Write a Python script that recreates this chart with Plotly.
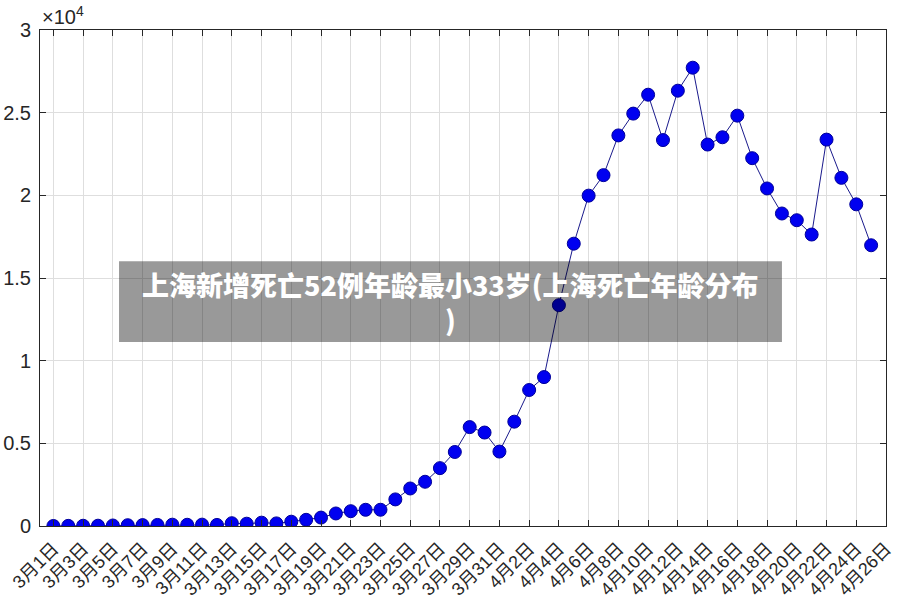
import plotly.graph_objects as go
import pandas as pd

# Daily new cases (confirmed + asymptomatic), 3月1日 .. 4月25日
dates = pd.date_range("2022-03-01", "2022-04-25", freq="D")
cases = [2, 8, 16, 19, 31, 48, 54, 65, 80, 75, 83, 65, 169, 139, 202, 158,
         260, 374, 509, 758, 896, 981, 983, 1609, 2269, 2676, 3500, 4477, 5982, 5653,
         4502, 6311, 8226, 9006, 13354, 17077, 19982, 21222, 23624, 24943, 26087, 23342,
         26330, 27719, 23072, 23513, 24820, 22248, 20416, 18901, 18495, 17629, 23370,
         21058, 19455, 16980]

tick_dates = pd.date_range("2022-03-01", "2022-04-26", freq="2D")
tick_text = [f"{d.month}月{d.day}日" for d in tick_dates]
y_ticks = [0, 5000, 10000, 15000, 20000, 25000, 30000]
y_text = ["0", "0.5", "1", "1.5", "2", "2.5", "3"]

title_text = "上海新增死亡52例年龄最小33岁(上海死亡年龄分布<br>)"

fig = go.Figure()
fig.add_trace(go.Scatter(
    x=dates, y=cases, mode="lines+markers",
    line=dict(color="#1a1a8c", width=1),
    marker=dict(color="#0000f0", size=13, line=dict(color="#00009a", width=1)),
    showlegend=False,
))

axis_common = dict(
    showline=True, linecolor="#262626", linewidth=1, mirror="ticks",
    ticks="inside", ticklen=6, tickcolor="#262626",
    showgrid=True, gridcolor="#dedede", gridwidth=1, zeroline=False,
    automargin=False,
)

fig.update_layout(
    width=902, height=604,
    margin=dict(l=40, r=16, t=30, b=78),
    paper_bgcolor="white", plot_bgcolor="white",
    font=dict(family="Liberation Sans, Arial, Noto Sans CJK SC", size=18, color="#262626"),
    xaxis=dict(
        range=[pd.Timestamp("2022-02-28 02:24"), pd.Timestamp("2022-04-26")],
        tickvals=tick_dates, ticktext=tick_text, tickangle=-45,
        tickfont=dict(size=18, family="Liberation Sans, Noto Sans CJK SC"),
        ticklabelstandoff=4,
        **axis_common,
    ),
    yaxis=dict(
        range=[0, 30000], tickvals=y_ticks, ticktext=y_text,
        tickfont=dict(size=20),
        ticklabelstandoff=4,
        **axis_common,
    ),
    shapes=[dict(
        type="rect", xref="paper", yref="paper",
        x0=0.0934, x1=0.877, y0=0.371, y1=0.534,
        fillcolor="rgba(0,0,0,0.4)", line=dict(width=0), layer="above",
    )],
    annotations=[
        dict(text="×10<sup>4</sup>", xref="paper", yref="paper", x=0.0, y=1.0,
             xanchor="left", yanchor="bottom", showarrow=False,
             font=dict(size=20, color="#262626")),
        dict(text=title_text, xref="paper", yref="paper", x=0.485, y=0.4526,
             xanchor="center", yanchor="middle", showarrow=False,
             font=dict(size=27, color="white", family="Noto Sans CJK SC", weight=900)),
    ],
)

fig.write_html("out.html")
